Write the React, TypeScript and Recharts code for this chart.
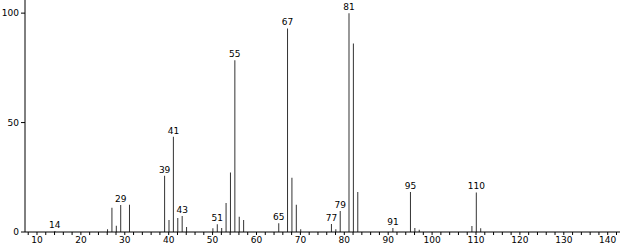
import React from "react";
import { ComposedChart, Bar, XAxis, YAxis, LabelList } from "recharts";

const mzValues = [14, 26, 27, 28, 29, 31, 39, 40, 41, 42, 43, 44, 50, 51, 52, 53, 54, 55, 56, 57, 65, 67, 68, 69, 70, 77, 78, 79, 81, 82, 83, 91, 95, 96, 97, 109, 110, 111];
const intensities = [0.5, 1.2, 11.1, 2.9, 12.3, 12.5, 25.7, 5.5, 43.5, 6.4, 7.3, 2.3, 1.7, 3.5, 1.8, 13.2, 27.2, 78.5, 7.0, 5.5, 4.0, 93.0, 24.8, 12.5, 1.2, 3.7, 1.2, 9.6, 100, 86.1, 18.3, 1.8, 18.3, 1.8, 1.0, 2.7, 18.1, 1.7];
const labeledPeaks = [14, 29, 39, 41, 43, 51, 55, 65, 67, 77, 79, 81, 91, 95, 110];
const xTicks = [8, 10, 12, 14, 16, 18, 20, 22, 24, 26, 28, 30, 32, 34, 36, 38, 40, 42, 44, 46, 48, 50, 52, 54, 56, 58, 60, 62, 64, 66, 68, 70, 72, 74, 76, 78, 80, 82, 84, 86, 88, 90, 92, 94, 96, 98, 100, 102, 104, 106, 108, 110, 112, 114, 116, 118, 120, 122, 124, 126, 128, 130, 132, 134, 136, 138, 140, 142];
const yTicks = [0, 50, 100];

const data = mzValues.map((m, i) => ({
  mz: m,
  value: intensities[i],
  label: labeledPeaks.includes(m) ? String(m) : "",
}));

const font = { fontFamily: "DejaVu Sans", fontSize: 9, fill: "#000" };

export default function App() {
  return (
    <div style={{ position: "absolute", left: 0, top: 0, background: "#fff" }}>
      <ComposedChart width={621} height={249} data={data} margin={{ top: 0, right: 1, bottom: 0, left: 0 }}>
        <XAxis
          dataKey="mz"
          type="number"
          domain={[7.27, 142.8]}
          ticks={xTicks}
          tickFormatter={(v: number) => (v % 10 === 0 ? String(v) : "")}
          interval={0}
          height={17}
          tickSize={3}
          tick={font}
          stroke="#000"
          allowDataOverflow
        />
        <YAxis
          type="number"
          domain={[0, 106]}
          ticks={yTicks}
          width={25}
          tickSize={4}
          tick={font}
          stroke="#000"
          allowDataOverflow
        />
        <Bar dataKey="value" fill="#333" barSize={1} isAnimationActive={false}>
          <LabelList dataKey="label" position="top" offset={3} style={{ fontFamily: "DejaVu Sans", fontSize: 9, fill: "#000" }} />
        </Bar>
      </ComposedChart>
    </div>
  );
}
